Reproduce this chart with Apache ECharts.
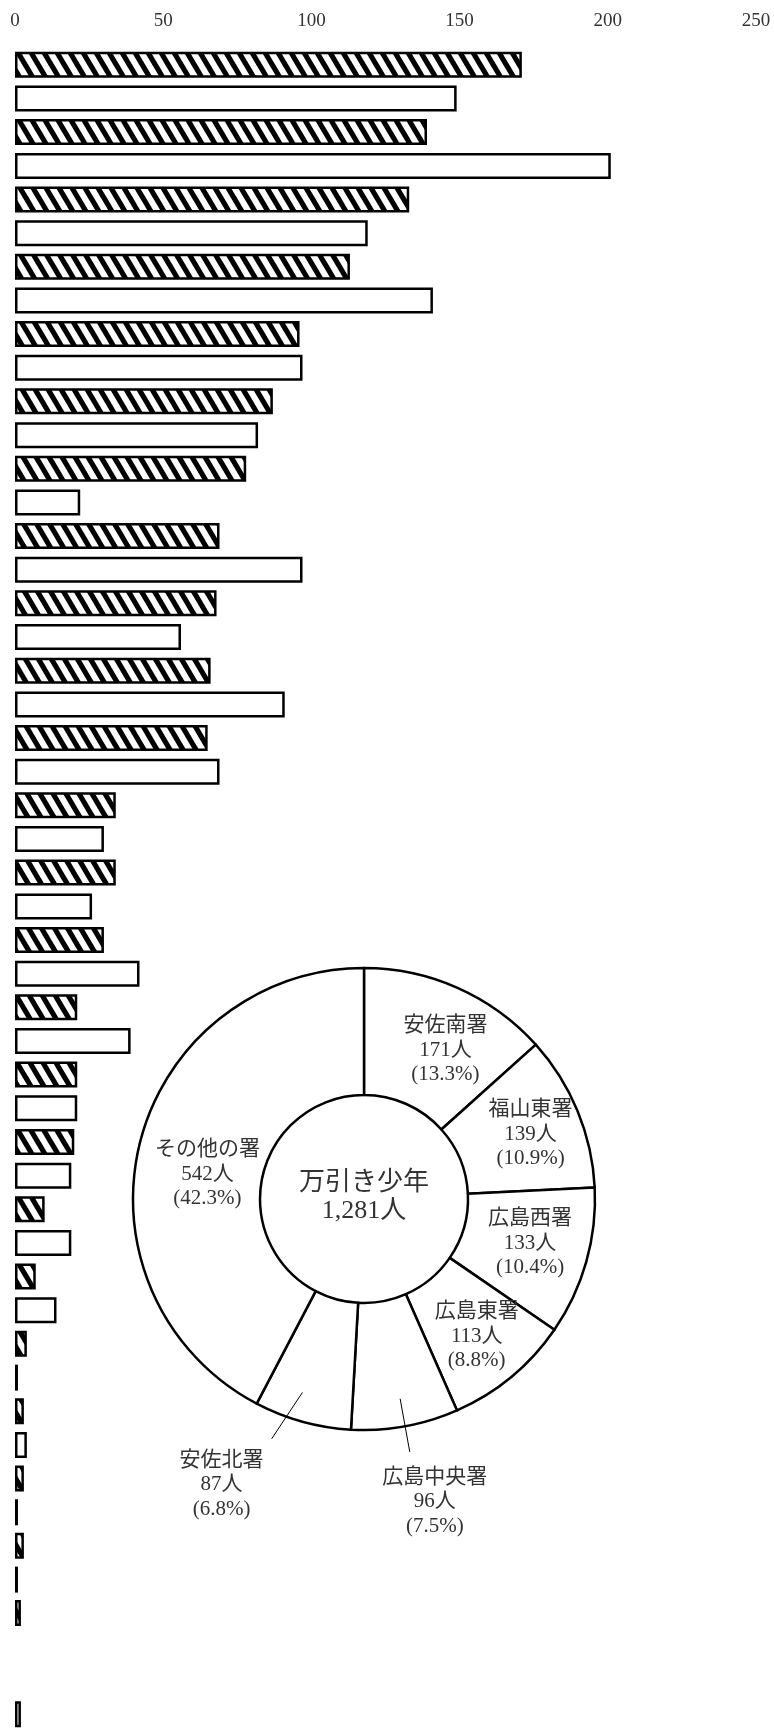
<!DOCTYPE html>
<html>
<head>
<meta charset="utf-8">
<script src="https://cdn.jsdelivr.net/npm/echarts@6/dist/echarts.min.js"></script>
<style>
html,body{margin:0;padding:0;background:#fff;}
#chart{width:774px;height:1730px;}
</style>
</head>
<body>
<div id="chart"></div>
<script>
// ---- data ----
const categories = ['安佐南署','福山東署','広島西署','広島東署','広島中央署','安佐北署',
  '署07','署08','署09','署10','署11','署12','署13','署14','署15','署16','署17','署18','署19','署20',
  '署21','署22','署23','署24','署25'];
const currentYear  = [171,139,133,113,96,87,78,69,68,66,65,34,34,30,21,21,20,10,7,4,3,3,3,2,0];
const previousYear = [149,201,119,141,97,82,22,97,56,91,69,30,26,42,39,21,19,19,14,1,4,1,1,0,2];
const xTickLabels = ['0','50','100','150','200','250'];

const pieNames  = ['安佐南署','福山東署','広島西署','広島東署','広島中央署','安佐北署','その他の署'];
const pieValues = [171,139,133,113,96,87,542];
const pieTitle = '万引き少年';
const outsideLabelNames = ['広島中央署','安佐北署'];

// ---- style ----
const FONT = "'Liberation Serif','Noto Sans CJK JP',serif";
const pieCenter = [364, 1199];
const insideOffsets = {'安佐南署':[12,7], '福山東署':[9,0], '広島西署':[2,-2], '広島東署':[4,6], 'その他の署':[9,16]};
const outsideOffsets = {'広島中央署':[20,50], '安佐北署':[-69,38]};
// leader-line tilt (degrees, clockwise) applied to [start, end] of the leader
const leaderTilt = {'広島中央署':[0,0], '安佐北署':[2.2,5.6]};

function makeHatch(){
  const w = 13, h = 22;
  const c = document.createElement('canvas');
  c.width = w; c.height = h;
  const g = c.getContext('2d');
  g.fillStyle = '#fff'; g.fillRect(0,0,w,h);
  g.strokeStyle = '#000'; g.lineWidth = 5.2;
  for (const off of [-w, 0, w]) {
    g.beginPath();
    g.moveTo(off - w, -h);
    g.lineTo(off + 2*w, 2*h);
    g.stroke();
  }
  return c;
}
const hatch = makeHatch();

const total = pieValues.reduce((a,b)=>a+b,0);

function barData(arr){
  return arr.map(v => v === 0 ? {value: v, itemStyle:{borderWidth:0}} : v);
}
function rotateAbout(pt, deg){
  const a = deg * Math.PI / 180, c = Math.cos(a), s = Math.sin(a);
  const x = pt[0] - pieCenter[0], y = pt[1] - pieCenter[1];
  return [pieCenter[0] + x*c - y*s, pieCenter[1] + x*s + y*c];
}

const labelFmt = '{b}\n{c}人\n({d}%)';

const chart = echarts.init(document.getElementById('chart'), null, {renderer:'canvas'});
const option = {
  animation:false,
  backgroundColor:'#fff',
  grid:{left:15, right:18, top:48, height:1683, outerBoundsMode:'none'},
  xAxis:{
    type:'value', position:'top', min:0, max:250, interval:50,
    axisLine:{show:false}, axisTick:{show:false}, splitLine:{show:false},
    axisLabel:{margin:17, fontSize:19, color:'#333', fontFamily:FONT,
      formatter:(v)=> xTickLabels[Math.round(v/50)] ?? String(v)}
  },
  yAxis:{type:'category', data:categories, inverse:true, show:false},
  series:[
    {
      type:'bar', name:'当年', data:barData(currentYear), barWidth:26, barGap:'30%',
      itemStyle:{color:{image:hatch, repeat:'repeat'}, borderColor:'#000', borderWidth:2.5},
      silent:true
    },
    {
      type:'bar', name:'前年', data:barData(previousYear), barWidth:26, barGap:'30%',
      itemStyle:{color:'#fff', borderColor:'#000', borderWidth:2.5},
      silent:true
    },
    {
      type:'pie', z:3, silent:true, center:pieCenter, radius:[104,231],
      startAngle:90, clockwise:true, percentPrecision:1, avoidLabelOverlap:false,
      itemStyle:{color:'#fff', borderColor:'#000', borderWidth:2.5},
      label:{position:'inside', formatter:labelFmt, fontSize:21, lineHeight:24.5,
        color:'#333', fontFamily:FONT},
      labelLine:{show:false},
      labelLayout:function(p){
        const o = insideOffsets[pieNames[p.dataIndex]];
        return o ? {dx:o[0], dy:o[1]} : {};
      },
      data: pieNames.map((n,i)=>({name:n, value:pieValues[i],
        label:{show: !outsideLabelNames.includes(n)}}))
    },
    {
      type:'pie', z:4, silent:true, center:pieCenter, radius:[104,203],
      startAngle:90, clockwise:true, percentPrecision:1, avoidLabelOverlap:false,
      itemStyle:{color:'rgba(0,0,0,0)', borderWidth:0},
      label:{position:'outside', formatter:labelFmt, fontSize:21, lineHeight:24.5,
        color:'#333', fontFamily:FONT, distanceToLabelLine:5},
      labelLine:{show:true, length:54, length2:0, smooth:false, lineStyle:{color:'#000', width:1}},
      labelLayout:function(p){
        const n = pieNames[p.dataIndex];
        const o = outsideOffsets[n];
        if (!o) return {};
        const t = leaderTilt[n] || [0,0];
        const pts = (p.labelLinePoints || []).map((pt, k) => rotateAbout(pt, k === 0 ? t[0] : t[1]));
        return {dx:o[0], dy:o[1], align:'center', labelLinePoints:pts};
      },
      data: pieNames.map((n,i)=>{
        const show = outsideLabelNames.includes(n);
        return {name:n, value:pieValues[i], label:{show:show}, labelLine:{show:show}};
      })
    }
  ],
  graphic:[{
    type:'text', x:pieCenter[0], y:pieCenter[1]-2, z:100,
    style:{text: pieTitle + '\n' + total.toLocaleString('en-US') + '人',
      fontSize:26, lineHeight:28, fontFamily:FONT, fill:'#333',
      align:'center', verticalAlign:'middle'}
  }]
};
chart.setOption(option);
</script>
</body>
</html>
